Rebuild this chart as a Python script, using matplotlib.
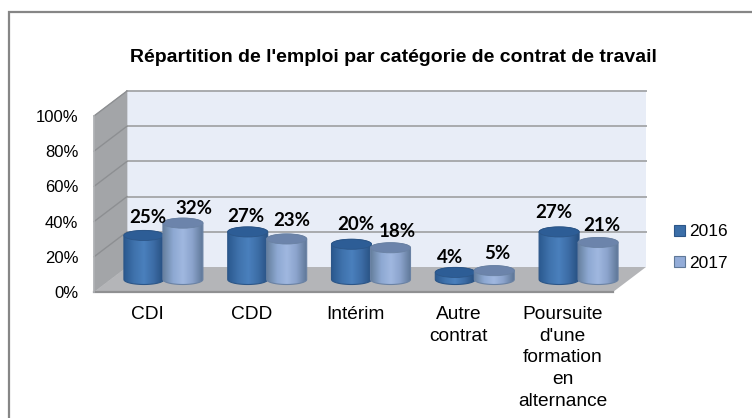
import numpy as np
import matplotlib
matplotlib.use('Agg')
import matplotlib.pyplot as plt
from matplotlib.colors import LinearSegmentedColormap
from matplotlib.patches import Ellipse, Patch, PathPatch, Polygon, Rectangle
from matplotlib.path import Path

categories = ['CDI', 'CDD', 'Intérim', 'Autre\ncontrat',
              "Poursuite\nd'une\nformation\nen\nalternance"]
values_2016 = [25, 27, 20, 4, 27]
values_2017 = [32, 23, 18, 5, 21]
y_ticks = [0, 20, 40, 60, 80, 100]
title = "Répartition de l'emploi par catégorie de contrat de travail"

W, H = 752, 418
plt.rcParams['font.family'] = ['Liberation Sans', 'DejaVu Sans']

fig = plt.figure(figsize=(W / 100, H / 100), dpi=100)
# frame runs off the right and bottom of the picture
fig.patches.append(Rectangle((8.5 / W, -0.01), 1, 1 - 12 / H + 0.01, transform=fig.transFigure,
                             fc='white', ec='#868686', lw=1.6, zorder=-1))

# axes = front plane of the fake 3d box
ax = fig.add_axes([94 / W, 1 - 292 / H, 519 / W, 176 / H])
ax.set_xlim(0, 5)
ax.set_ylim(0, 100)
ax.patch.set_visible(False)
for s in ax.spines.values():
    s.set_visible(False)

px_x = 5 / 519
px_y = 100 / 176
dx = 33 * px_x   # depth of the box
dy = 25 * px_y

ax.add_patch(Polygon([(dx, dy), (5 + dx, dy), (5 + dx, 100 + dy), (dx, 100 + dy)],
                     fc='#e8edf7', ec='none', zorder=1, clip_on=False))
ax.add_patch(Polygon([(0, 0), (dx, dy), (dx, 100 + dy), (0, 100)],
                     fc='#a3a5a8', ec='#a3a5a8', lw=0.5, zorder=1, clip_on=False))
ax.add_patch(Polygon([(0, 0), (5, 0), (5 + dx, dy), (dx, dy)],
                     fc='#b4b5b8', ec='none', zorder=1, clip_on=False))
ax.plot([0, 5], [0, 0], color='#8f9092', lw=1.6, zorder=2, clip_on=False)
for t in y_ticks:
    if t > 0:
        ax.plot([dx, 5 + dx], [t + dy, t + dy], color='#a9abae', lw=1.4, zorder=2, clip_on=False)
        ax.plot([0, dx], [t, t + dy], color='#8d8f92', lw=1.0, zorder=2, clip_on=False)
ax.plot([0, 0], [0, 100], color='#b0b2b5', lw=1.2, zorder=2, clip_on=False)

cmap_2016 = LinearSegmentedColormap.from_list('c16', ['#2b5a90', '#3f72ac', '#4a80bd', '#3c6ca5', '#274f80'])
cmap_2017 = LinearSegmentedColormap.from_list('c17', ['#67819f', '#8da8d2', '#a0b8e0', '#8aa2cb', '#5f7898'])
grad = np.linspace(0, 1, 64).reshape(1, -1)

half_w = 20 * px_x
half_h = 5 * px_y
floor_y = dy / 2


def cylinder(xc, value, cmap, top_col, edge_col, z):
    x0, x1 = xc - half_w, xc + half_w
    y0 = floor_y
    y1 = floor_y + value
    t = np.linspace(np.pi, 2 * np.pi, 40)
    low = np.column_stack([xc + half_w * np.cos(t), y0 + half_h * np.sin(t)])
    high = np.column_stack([xc + half_w * np.cos(t[::-1]), y1 + half_h * np.sin(t[::-1]) * -1])
    verts = np.vstack([low, high, low[:1]])
    body = Path(verts)
    im = ax.imshow(grad, extent=[x0, x1, y0 - half_h, y1 + half_h], cmap=cmap, aspect='auto',
                   zorder=z)
    im.set_clip_box(fig.bbox)
    im.set_clip_path(PathPatch(body, transform=ax.transData))
    ax.add_patch(PathPatch(body, fc='none', ec=edge_col, lw=0.8, zorder=z + 0.1, clip_on=False))
    ax.add_patch(Ellipse((xc, y1), 2 * half_w, 2 * half_h, fc=top_col, ec=edge_col, lw=0.6,
                         zorder=z + 0.2, clip_on=False))


# label offsets from the cylinder top, pixels
off_2016 = [(4, 18), (-2, 15), (4, 20), (-5, 15), (-5, 19)]
off_2017 = [(11, 15), (5, 19), (7, 16), (3, 17), (4, 17)]
shift = 19.5 * px_x

for i, cat in enumerate(categories):
    xc = i + 0.5 + dx / 2 + 1 * px_x
    for xb, v, cmap, top, edge, z, off in (
            (xc - shift, values_2016[i], cmap_2016, '#2d5d96', '#2c5688', 3, off_2016[i]),
            (xc + shift, values_2017[i], cmap_2017, '#6c84ab', '#6a82a4', 4, off_2017[i])):
        cylinder(xb, v, cmap, top, edge, z)
        ax.annotate(f'{v}%', (xb, floor_y + v), xytext=(off[0] * 0.72, off[1] * 0.72),
                    textcoords='offset points', ha='center', va='center', zorder=6,
                    family='Lato', fontweight='bold', fontsize=13.5, color='black',
                    annotation_clip=False)

ax.set_xlim(0, 5)
ax.set_ylim(0, 100)
ax.set_xticks(np.arange(len(categories)) + 0.5 + 1.5 * px_x)
ax.set_xticklabels(categories, fontsize=13.8, linespacing=1.36)
ax.set_yticks(y_ticks)
ax.set_yticklabels([f'{t}%' for t in y_ticks], fontsize=12)
ax.tick_params(axis='both', length=0)
ax.tick_params(axis='x', pad=10)
ax.tick_params(axis='y', pad=11.3)

fig.text(393.5 / W, 1 - 58 / H, title, ha='center', va='center', fontsize=14, fontweight='bold')

handles = [Patch(fc='#3b6ea8', ec='#2c5688', lw=0.8), Patch(fc='#93acd8', ec='#5f7898', lw=0.8)]
fig.legend(handles, ['2016', '2017'], loc='center left', bbox_to_anchor=(674 / W, 1 - 247.5 / H),
           frameon=False, fontsize=12.5, handlelength=0.65, handleheight=0.65, handletextpad=0.2,
           labelspacing=0.93, borderpad=0, borderaxespad=0)

fig.savefig('out.png', dpi=100)
